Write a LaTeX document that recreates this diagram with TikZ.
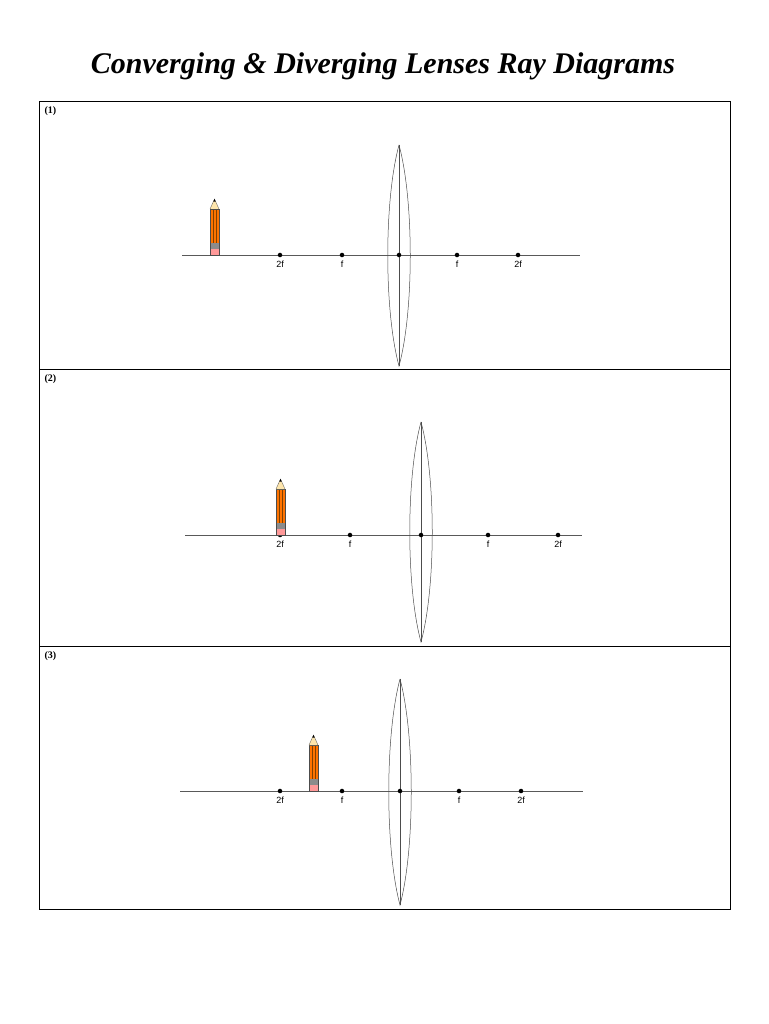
\documentclass[tikz,border=0pt]{standalone}
\usepackage{fontspec}
\setmainfont{Liberation Serif}
\newfontfamily\sans{Liberation Sans}
\begin{document}
\begin{tikzpicture}[x=1pt,y=-1pt,
  axis/.style={draw=black!65,line width=0.9pt},
  lens/.style={draw=black!70,line width=0.5pt},
  dot/.style={circle,fill=black,inner sep=1.6pt},
  lbl/.style={font=\sans\fontsize{9}{9}\selectfont,below=1pt},
  panel/.style={draw=black,line width=0.7pt},
  pnum/.style={font=\bfseries\fontsize{10}{10}\selectfont,anchor=north west},
  pencil/.pic={
    \fill[orange!90!red] (-4.5,0) rectangle (4.5,-46);
    \draw[orange!50!black,line width=0.3pt] (-1.5,-12) -- (-1.5,-46) (1.5,-12) -- (1.5,-46);
    \fill[pink!80!red] (-4.5,0) rectangle (4.5,-6);
    \fill[black!45] (-4.5,-6) rectangle (4.5,-12);
    \draw[black!70,line width=0.3pt] (-4.5,0) rectangle (4.5,-46);
    \fill[yellow!40!orange!30] (-4.5,-46) -- (0,-56) -- (4.5,-46) -- cycle;
    \draw[black!70,line width=0.3pt] (-4.5,-46) -- (0,-56) -- (4.5,-46);
    \fill[black] (-1.2,-53.3) -- (0,-56) -- (1.2,-53.3) -- cycle;
  }]
\useasboundingbox (0,0) rectangle (768,1024);
\node[font=\bfseries\itshape\fontsize{30}{30}\selectfont] (title) at (383,66) {Converging \& Diverging Lenses Ray Diagrams};
\node[panel,minimum width=691pt,minimum height=268pt,anchor=north west,inner sep=0] (p1) at (39,101) {};
\node[panel,minimum width=691pt,minimum height=277pt,anchor=north west,inner sep=0] (p2) at (39,369) {};
\node[panel,minimum width=691pt,minimum height=263pt,anchor=north west,inner sep=0] (p3) at (39,646) {};
\node[pnum] (n1) at (41,103) {(1)};
\node[pnum] (n2) at (41,371) {(2)};
\node[pnum] (n3) at (41,648) {(3)};
% panel 1
\draw[axis] (182,255) -- (580,255);
\draw[lens] (399,145) .. controls (414,200) and (414,311) .. (399,366) .. controls (384,311) and (384,200) .. (399,145);
\draw[lens] (399,145) -- (399,366);
\foreach \x/\t in {280/2f,342/f,457/f,518/2f}{\node[dot] at (\x,255) {}; \node[lbl] at (\x,256) {\t};}
\node[dot] at (399,255) {};
\pic at (214.5,255) {pencil};
% panel 2
\draw[axis] (185,535) -- (582,535);
\draw[lens] (421,422) .. controls (436,477) and (436,587) .. (421,642) .. controls (406,587) and (406,477) .. (421,422);
\draw[lens] (421,422) -- (421,642);
\foreach \x/\t in {280/2f,350/f,488/f,558/2f}{\node[dot] at (\x,535) {}; \node[lbl] at (\x,536) {\t};}
\node[dot] at (421,535) {};
\pic at (280.5,535) {pencil};
% panel 3
\draw[axis] (180,791) -- (583,791);
\draw[lens] (400,679) .. controls (415,735) and (415,849) .. (400,905) .. controls (385,849) and (385,735) .. (400,679);
\draw[lens] (400,679) -- (400,905);
\foreach \x/\t in {280/2f,342/f,459/f,521/2f}{\node[dot] at (\x,791) {}; \node[lbl] at (\x,792) {\t};}
\node[dot] at (400,791) {};
\pic at (313.5,791) {pencil};
\end{tikzpicture}
\end{document}
